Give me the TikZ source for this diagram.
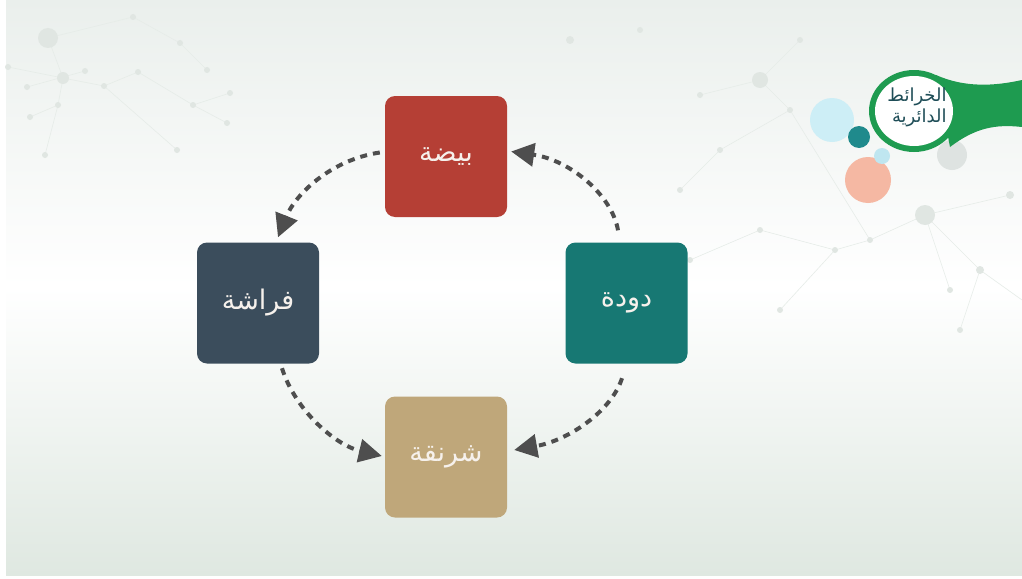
\documentclass[tikz,border=0pt]{standalone}
\usepackage{fontspec}
\newfontfamily\arabicfont[Script=Arabic]{DejaVu Sans}
\TeXXeTstate=1
\usetikzlibrary{arrows.meta,calc}
\definecolor{eggred}{HTML}{B53F35}
\definecolor{slatebox}{HTML}{3B4D5C}
\definecolor{tealbox}{HTML}{177873}
\definecolor{tanbox}{HTML}{BFA77A}
\definecolor{arrowgray}{HTML}{4E4E4E}
\definecolor{bgtop}{HTML}{EAEFEC}
\definecolor{bgbot}{HTML}{DFE8E1}
\definecolor{netline}{HTML}{E6ECE8}
\definecolor{netdot}{HTML}{E0E6E2}
\definecolor{logogreen}{HTML}{1E9B50}
\definecolor{logotext}{HTML}{1E4D57}
\definecolor{lightblue}{HTML}{CDEEF6}
\definecolor{lightblue2}{HTML}{BFE6F0}
\definecolor{darkteal}{HTML}{1F8A8C}
\definecolor{salmon}{HTML}{F5B8A3}
\definecolor{softgray}{HTML}{DEE3E1}
\definecolor{boxtext}{HTML}{F6F1EC}
\begin{document}
\begin{tikzpicture}[x=1pt,y=-1pt,
  stage/.style={rounded corners=10pt, minimum width=122pt, minimum height=121pt,
    inner sep=0pt, text=boxtext, font=\arabicfont\fontsize{27}{30}\selectfont},
  flow/.style={draw=arrowgray, line width=4pt, dash pattern=on 7pt off 6pt,
    -{Triangle[length=23pt,width=23pt]}},
  net/.style={draw=netline, line width=0.6pt},
  dot/.style={fill=netdot}]
\useasboundingbox (0,0) rectangle (1022,578);
\fill[white] (0,0) rectangle (1022,578);
\shade[top color=bgtop, bottom color=bgbot, middle color=white] (6,0) rectangle (1022,575);

% faint network, left
\draw[net] (48,38) -- (63,78) -- (58,105) -- (30,117) (63,78) -- (8,67) (63,78) -- (104,86) -- (138,72)
  (104,86) -- (177,150) (58,105) -- (45,155) (138,72) -- (193,105) -- (227,123) (48,38) -- (133,17)
  (85,71) -- (27,87) (193,105) -- (230,93) (133,17) -- (180,43) -- (207,70);
\foreach \p/\r in {(48,38)/10,(63,78)/6,(8,67)/3,(27,87)/3,(85,71)/3,(104,86)/3,(58,105)/3,(30,117)/3,(45,155)/3,(138,72)/3,(193,105)/3,(177,150)/3,(133,17)/3,(180,43)/3,(230,93)/3,(227,123)/3,(207,70)/3}
  \fill[dot] \p circle (\r pt);
% faint network, right
\draw[net] (700,95) -- (760,80) -- (800,40) (760,80) -- (790,110) -- (870,240) -- (925,215) -- (1010,195)
  (870,240) -- (835,250) -- (780,310) (925,215) -- (980,270) -- (1022,300) (790,110) -- (720,150) -- (680,190)
  (925,215) -- (950,290) (835,250) -- (760,230) -- (690,260) (980,270) -- (960,330);
\foreach \p/\r in {(700,95)/3,(760,80)/8,(800,40)/3,(790,110)/3,(870,240)/3,(925,215)/10,(1010,195)/4,(835,250)/3,(780,310)/3,(980,270)/4,(720,150)/3,(680,190)/3,(950,290)/3,(760,230)/3,(690,260)/3,(960,330)/3,(570,40)/4,(640,30)/3}
  \fill[dot] \p circle (\r pt);

% stages
\node[stage, fill=eggred] (egg) at (446,156.5) {\beginR بيضة\endR};
\node[stage, fill=slatebox] (butterfly) at (258,303) {\beginR فراشة\endR};
\node[stage, fill=tealbox] (worm) at (626.5,303) {\beginR دودة\endR};
\node[stage, fill=tanbox] (cocoon) at (446,457) {\beginR شرنقة\endR};

% connectors
\draw[flow] ([shift={(-5,-4)}]egg.west) .. controls (330,160) and (295,195) .. ([shift={(20,-5)}]butterfly.north);
\draw[flow] ([shift={(-8.5,-12)}]worm.north) .. controls (612,195) and (570,160) .. ([shift={(4,-5)}]egg.east);
\draw[flow] ([shift={(-4.5,14.5)}]worm.south) .. controls (612,410) and (570,440) .. ([shift={(7,-7)}]cocoon.east);
\draw[flow] ([shift={(24,4.5)}]butterfly.south) .. controls (295,410) and (335,445) .. ([shift={(-3,-1)}]cocoon.west);

% logo decoration
\fill[softgray] (952,155) circle (15pt);
\fill[lightblue] (832,120) circle (22pt);
\fill[salmon] (868,180) circle (23pt);
\fill[lightblue2] (882,156) circle (8pt);
\fill[darkteal] (859,137) circle (11pt);
\fill[logogreen] (936,75) .. controls (965,88) and (995,86) .. (1022,80) -- (1022,127)
  .. controls (995,124) and (975,128) .. (950,147) -- cycle;
\fill[logogreen] (914,111) ellipse [x radius=45pt, y radius=41pt];
\fill[white] (914,111) ellipse [x radius=39pt, y radius=35pt];
\node[font=\arabicfont\fontsize{18}{21}\selectfont, text=logotext, align=right, inner sep=0pt]
  (logo) at (917,107) {\beginR الخرائط\endR\\\beginR الدائرية\endR};
\end{tikzpicture}
\end{document}
